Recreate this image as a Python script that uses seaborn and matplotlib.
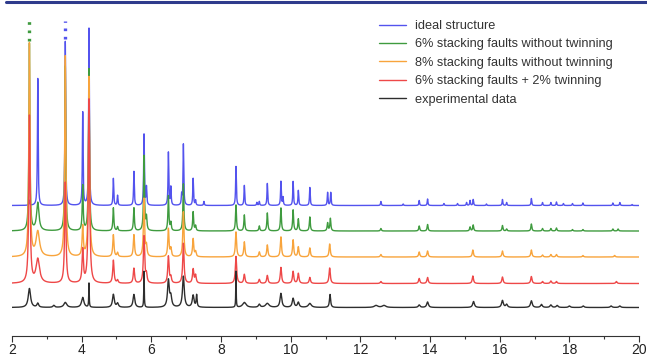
import numpy as np
import pandas as pd
import matplotlib
matplotlib.use("Agg")
import matplotlib.pyplot as plt
from matplotlib.lines import Line2D
import seaborn as sns

# ---------------- data ----------------
series_names = [
    "ideal structure",
    "6% stacking faults without twinning",
    "8% stacking faults without twinning",
    "6% stacking faults + 2% twinning",
    "experimental data",
]
series_colors = ["#5353ee", "#3f9b3f", "#f8a43c", "#ee4848", "#2e2e2e"]
series_offsets = [102, 76.5, 50.5, 24, 0]          # vertical stacking of patterns
base_hwhm = [0.012, 0.016, 0.02, 0.022, 0.03]      # default peak half widths (2theta)

x_ticks = [2, 4, 6, 8, 10, 12, 14, 16, 18, 20]

ideal_pos = [2.50, 2.74, 3.53, 4.03, 4.21, 4.91, 5.03, 5.50, 5.79, 5.86, 6.49, 6.56, 6.87, 6.92,
             7.20, 7.27, 7.51, 8.43, 8.67, 9.03, 9.10, 9.33, 9.72, 9.78, 10.07, 10.22, 10.55,
             11.06, 11.15, 12.59, 13.23, 13.69, 13.93, 14.40, 14.79, 15.05, 15.15, 15.24, 15.62,
             16.08, 16.20, 16.91, 17.23, 17.47, 17.63, 17.83, 18.09, 18.39, 19.25, 19.45, 19.80]
ideal_int = [5, 127, 164, 93, 177, 27, 10, 34, 71, 18, 53, 18, 10, 61,
             27, 5, 4, 39, 20, 3, 4, 22, 24, 8, 24, 15, 18,
             13, 13, 4, 1.5, 5, 6.5, 2, 2, 3, 5, 6, 1.5,
             6, 3, 7, 3, 3, 3.5, 2, 2, 2.5, 2.5, 3, 1]

sf6_pos = [2.50, 2.74, 3.53, 4.03, 4.21, 4.91, 5.03, 5.50, 5.79, 5.86, 6.49, 6.56, 6.92,
           7.20, 7.27, 8.43, 8.67, 9.10, 9.33, 9.72, 10.07, 10.22, 10.55, 11.06, 11.14,
           12.59, 13.69, 13.93, 15.15, 15.24, 16.08, 16.20, 16.91, 17.23, 17.47, 17.63,
           18.09, 18.39, 19.25, 19.40]
sf6_int = [187, 28, 165, 45, 162, 23, 4, 23, 75, 13, 35, 8, 47,
           19, 5, 26, 16, 5, 18, 23, 21, 12, 14, 8, 12.5,
           2.5, 5, 6.5, 4, 6, 5.5, 2, 7, 2.5, 2.5, 3,
           1.5, 1.5, 2, 2]

sf8_pos = [2.50, 2.74, 3.53, 4.03, 4.21, 4.91, 5.03, 5.50, 5.79, 5.86, 6.49, 6.56, 6.92,
           7.20, 7.27, 8.43, 8.67, 9.10, 9.33, 9.72, 10.07, 10.22, 10.55, 11.12,
           12.59, 13.69, 13.93, 15.23, 16.08, 16.91, 17.23, 17.47, 17.63, 18.39, 19.30]
sf8_int = [213, 25, 201, 30, 180, 22, 4, 22, 58, 10, 28, 8, 45,
           18, 5, 25, 15, 5, 12, 20, 17, 10, 9, 13,
           2.5, 5, 6, 7, 6, 7, 2, 2.5, 2.5, 1.5, 1.5]

tw_pos = [2.50, 2.74, 3.53, 4.03, 4.21, 4.91, 5.03, 5.50, 5.79, 5.86, 6.49, 6.56, 6.92,
          7.20, 7.27, 8.43, 8.67, 9.10, 9.33, 9.72, 10.07, 10.22, 10.55, 11.12,
          12.59, 13.69, 13.93, 15.23, 16.08, 16.91, 17.23, 17.47, 17.63, 19.35]
tw_int = [167, 24, 101, 33, 184, 23, 3, 15, 47, 8, 27, 6, 40,
          14, 8, 27, 9, 4, 8, 16, 12, 10, 6, 15.5,
          2, 5, 6, 7.5, 6.5, 7, 2, 2.5, 2, 2]

exp_pos = [2.50, 2.74, 3.20, 3.53, 4.03, 4.21, 4.91, 5.03, 5.50, 5.79, 6.49, 6.56, 6.92,
           7.20, 7.30, 8.43, 8.67, 9.10, 9.33, 9.72, 10.07, 10.22, 10.55, 11.13,
           12.45, 12.68, 13.69, 13.93, 15.25, 16.08, 16.20, 16.91, 17.20, 17.47, 17.65,
           18.00, 18.40, 19.20, 19.45]
exp_int = [19, 4, 2, 5, 10, 24, 13, 4, 13, 36, 27, 10, 31,
           12, 12, 36, 5, 3, 4, 14, 9, 5, 4, 13,
           2, 2, 2.5, 5.5, 6, 7, 3, 6.7, 3, 2.5, 2,
           1.5, 1.5, 1.5, 1.5]

# peaks whose half width differs from the series default
broad_peaks = {
    1: {2.74: 0.04},
    2: {2.74: 0.06},
    3: {2.74: 0.06},
    4: {2.50: 0.04, 3.53: 0.05, 4.03: 0.04, 4.21: 0.008, 5.79: 0.008, 7.30: 0.015,
        8.43: 0.007, 8.67: 0.06, 9.33: 0.06, 10.55: 0.05, 11.13: 0.02,
        12.45: 0.06, 12.68: 0.06},
}

# peaks cut off at the top of the plot (series index, position), dots up to this level
trunc_series = [1, 0]
trunc_pos = [2.50, 3.53]
trunc_top = 287

peak_pos = [ideal_pos, sf6_pos, sf8_pos, tw_pos, exp_pos]
peak_int = [ideal_int, sf6_int, sf8_int, tw_int, exp_int]

# ---------------- build pattern table ----------------
tt = np.linspace(2, 20, 9001)
frames = []
for i, name in enumerate(series_names):
    y = np.zeros_like(tt)
    for p, h in zip(peak_pos[i], peak_int[i]):
        w = broad_peaks.get(i, {}).get(p, base_hwhm[i])
        y += h * w**2 / ((tt - p) ** 2 + w**2)
    frames.append(pd.DataFrame({"two_theta": tt, "intensity": y + series_offsets[i], "series": name}))
df = pd.concat(frames, ignore_index=True)

# ---------------- plot ----------------
sns.set_theme(style="white")
plt.rcParams["font.family"] = ["Liberation Sans", "DejaVu Sans"]

W, H = 647, 356
fig = plt.figure(figsize=(W / 100, H / 100), dpi=100)
ax = fig.add_axes([12 / W, 20 / H, 627 / W, 325 / H])

sns.lineplot(data=df, x="two_theta", y="intensity", hue="series", hue_order=series_names,
             palette=dict(zip(series_names, series_colors)), estimator=None, sort=False,
             errorbar=None, linewidth=1.0, ax=ax)

# dotted continuation of truncated peaks
for si, p in zip(trunc_series, trunc_pos):
    idx = peak_pos[si].index(p)
    top_of_peak = series_offsets[si] + peak_int[si][idx]
    ax.vlines(p, top_of_peak + 3, trunc_top, colors=series_colors[si], linewidth=2.4,
              linestyles=(0, (0.8, 1.7)))

ax.set_xlim(2, 20)
ax.set_ylim(-28.5, 296.5)
ax.set_xticks(x_ticks)
ax.set_xticklabels([str(t) for t in x_ticks])
ax.set_xticks(np.arange(3, 20, 2), minor=True)
ax.tick_params(axis="x", which="major", direction="out", length=4, width=0.8, color="#333333",
               labelsize=10, pad=1, labelcolor="#222222", bottom=True)
ax.tick_params(axis="x", which="minor", direction="out", length=2.5, width=0.8, color="#333333",
               bottom=True)
ax.set_yticks([])
ax.set_xlabel("")
ax.set_ylabel("")
for s in ["left", "top", "right"]:
    ax.spines[s].set_visible(False)
ax.spines["bottom"].set_color("#333333")
ax.spines["bottom"].set_linewidth(0.8)

sns.move_legend(ax, "upper left", bbox_to_anchor=(379 / W, 1 - 20 / H),
                bbox_transform=fig.transFigure, frameon=False, title=None, fontsize=9.2,
                handlelength=2.15, handletextpad=0.7, labelspacing=0.5,
                borderpad=0, borderaxespad=0)
for t in ax.get_legend().get_texts():
    t.set_color("#333333")

# top banner rule
fig.add_artist(Line2D([6 / W, 1], [1 - 1.5 / H, 1 - 1.5 / H], transform=fig.transFigure,
                      color="#2e3b8c", linewidth=2.2))

fig.savefig("out.png", dpi=100)
